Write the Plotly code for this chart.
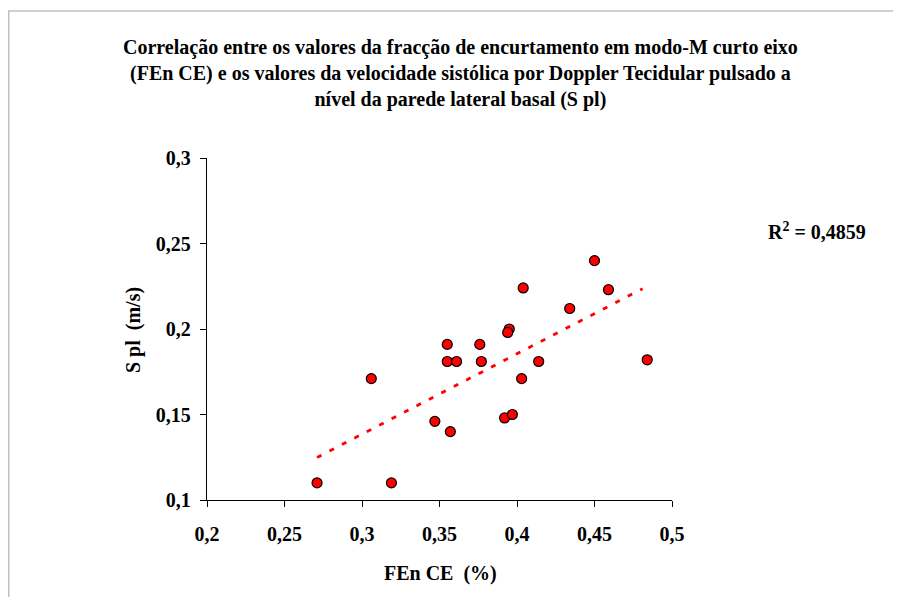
import numpy as np
import plotly.graph_objects as go

# FEn CE (%) values
fen_ce = [0.271, 0.319, 0.306, 0.347, 0.357, 0.355, 0.355, 0.361, 0.376, 0.377,
          0.395, 0.394, 0.392, 0.397, 0.403, 0.404, 0.414, 0.434, 0.450, 0.459, 0.484]
# S pl (m/s) values
s_pl = [0.110, 0.110, 0.171, 0.146, 0.140, 0.191, 0.181, 0.181, 0.191, 0.181,
        0.200, 0.198, 0.148, 0.150, 0.171, 0.224, 0.181, 0.212, 0.240, 0.223, 0.182]

x_ticks = [0.2, 0.25, 0.3, 0.35, 0.4, 0.45, 0.5]
x_ticktext = ["0,2", "0,25", "0,3", "0,35", "0,4", "0,45", "0,5"]
y_ticks = [0.1, 0.15, 0.2, 0.25, 0.3]
y_ticktext = ["0,1", "0,15", "0,2", "0,25", "0,3"]

title_text = ("Correlação entre os valores da fracção de encurtamento em modo-M curto eixo<br>"
              "(FEn CE) e os valores da velocidade sistólica por Doppler Tecidular pulsado a<br>"
              "nível da parede lateral basal (S pl)")
r2_text = "R<sup>2</sup> = 0,4859"

# linear trendline (least squares)
xa = np.array(fen_ce)
ya = np.array(s_pl)
slope, intercept = np.polyfit(xa, ya, 1)
tx = np.array([min(fen_ce), 0.481])
ty = slope * tx + intercept

# page has an 8px body margin; figure placed at (8, 8)
OFF = 8
W, H = 901 - OFF, 597 - OFF
L, R, T, B = 207 - OFF, 901 - 672, 158 - OFF, 597 - 500
pw, ph = W - L - R, H - T - B

def px(xp):
    return (xp - OFF - L) / pw

def py(yp):
    return (H - B - (yp - OFF)) / ph

FF = "Times New Roman, Liberation Serif, DejaVu Serif, serif"

fig = go.Figure()
fig.add_trace(go.Scatter(x=tx, y=ty, mode="lines",
                         line=dict(color="#ff0000", width=2.8, dash="5px,9px"),
                         showlegend=False, hoverinfo="skip"))
fig.add_trace(go.Scatter(x=fen_ce, y=s_pl, mode="markers",
                         marker=dict(color="#ff0000", size=10,
                                     line=dict(color="#000000", width=1.2)),
                         showlegend=False))

axis_common = dict(showgrid=False, zeroline=False, showline=True, linecolor="black",
                   linewidth=1.3, ticks="outside", ticklen=6, tickcolor="black",
                   tickfont=dict(size=20, family=FF, color="black", weight="bold"))

fig.update_layout(
    width=W, height=H,
    margin=dict(l=L, r=R, t=T, b=B),
    paper_bgcolor="white", plot_bgcolor="white",
    font=dict(family=FF, color="black"),
    xaxis=dict(range=[0.2, 0.5], tickvals=x_ticks, ticktext=x_ticktext,
               ticklabelstandoff=10, **axis_common),
    yaxis=dict(range=[0.1, 0.3], tickvals=y_ticks, ticktext=y_ticktext,
               ticklabelstandoff=5, **axis_common),
    shapes=[dict(type="rect", xref="paper", yref="paper",
                 x0=px(8.75), x1=px(901 + 30), y0=py(597 + 30), y1=py(11),
                 line=dict(color="#c0c0c0", width=1.5), layer="below")],
    annotations=[
        dict(text="<b>" + title_text + "</b>", xref="paper", yref="paper",
             x=px(460), y=py(74), xanchor="center", yanchor="middle",
             showarrow=False, align="center",
             font=dict(size=20, family=FF, color="black")),
        dict(text="<b>FEn CE  (%)</b>", xref="paper", yref="paper",
             x=px(440), y=py(573), xanchor="center", yanchor="middle",
             showarrow=False, font=dict(size=20, family=FF, color="black")),
        dict(text="<b>S pl  (m/s)</b>", xref="paper", yref="paper",
             x=px(133), y=py(330), xanchor="center", yanchor="middle",
             textangle=-90, showarrow=False,
             font=dict(size=20, family=FF, color="black")),
        dict(text="<b>" + r2_text + "</b>", xref="paper", yref="paper",
             x=px(817), y=py(231), xanchor="center", yanchor="middle",
             showarrow=False, font=dict(size=20, family=FF, color="black")),
    ],
)

fig.write_html("out.html")
